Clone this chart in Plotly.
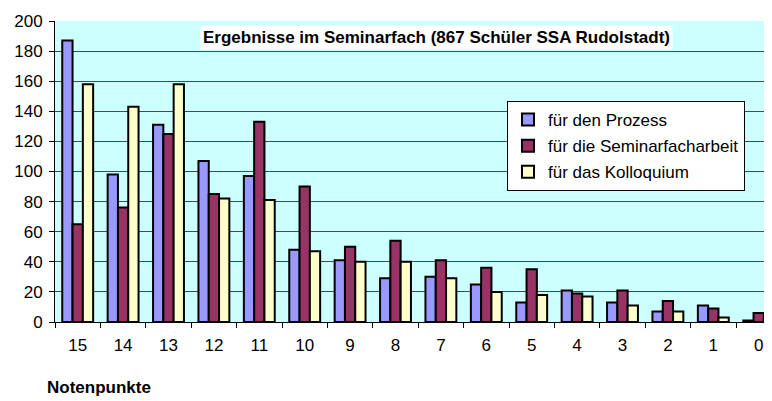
import plotly.graph_objects as go

categories = ["15", "14", "13", "12", "11", "10", "9", "8", "7", "6", "5", "4", "3", "2", "1", "0"]
prozess = [187, 98, 131, 107, 97, 48, 41, 29, 30, 25, 13, 21, 13, 7, 11, 1]
seminarfacharbeit = [65, 76, 125, 85, 133, 90, 50, 54, 41, 36, 35, 19, 21, 14, 9, 6]
kolloquium = [158, 143, 158, 82, 81, 47, 40, 40, 29, 20, 18, 17, 11, 7, 3, 2]
series_names = ["für den Prozess", "für die Seminarfacharbeit", "für das Kolloquium"]
colors = ["#9999FF", "#993366", "#FFFFCC"]
y_ticks = [0, 20, 40, 60, 80, 100, 120, 140, 160, 180, 200]

FONT = "Arial, Liberation Sans, sans-serif"

fig = go.Figure()
for i, (name, vals, col) in enumerate(zip(series_names, [prozess, seminarfacharbeit, kolloquium], colors)):
    fig.add_trace(go.Bar(
        x=categories, y=vals, name=name, legendgroup=f"g{i}",
        marker=dict(color=col, line=dict(color="black", width=2)),
    ))

# the page body has an 8px margin, so the figure is 8px smaller than the window
OFF = 8
W, H = 772 - OFF, 401 - OFF
L, T = 55 - OFF, 21 - OFF
plot_w = W - L
plot_h = 301
B = H - T - plot_h
cat_w = 45.4
x_hi = -0.5 + plot_w / cat_w

def px_x(x):
    return (x - OFF - L) / plot_w

def px_y(y):
    return (T + plot_h - (y - OFF)) / plot_h

fig.update_layout(
    width=W, height=H,
    margin=dict(l=L, r=0, t=T, b=B, autoexpand=False),
    paper_bgcolor="white",
    plot_bgcolor="#CCFFFF",
    font=dict(family=FONT, size=17, color="black"),
    barmode="group",
    bargap=0.32,
    bargroupgap=0,
    showlegend=True,
    legend=dict(
        x=px_x(507), y=px_y(101), xanchor="left", yanchor="top",
        bgcolor="white", bordercolor="black", borderwidth=1,
        font=dict(family=FONT, size=17, color="black"),
        tracegroupgap=1,
    ),
    xaxis=dict(
        type="category",
        range=[-0.5, x_hi],
        showline=True, linecolor="black", linewidth=1,
        ticks="outside", ticklen=5, tickcolor="black",
        tickson="boundaries",
        showgrid=False,
        ticklabelstandoff=8,
        tickfont=dict(family=FONT, size=17),
        automargin=False,
    ),
    yaxis=dict(
        range=[0, 200],
        tickvals=y_ticks,
        showline=True, linecolor="black", linewidth=1,
        ticks="outside", ticklen=5, tickcolor="black",
        showgrid=True, gridcolor="#4a4a4a", gridwidth=1,
        zeroline=False,
        tickfont=dict(family=FONT, size=17),
        ticklabelstandoff=3,
        automargin=False,
    ),
    annotations=[
        dict(
            text="<b>Ergebnisse im Seminarfach (867 Schüler SSA Rudolstadt)</b>",
            xref="paper", yref="paper", x=px_x(437), y=px_y(37),
            xanchor="center", yanchor="middle", showarrow=False,
            bgcolor="white", borderpad=2,
            font=dict(family=FONT, size=17, color="black"),
        ),
        dict(
            text="<b>Notenpunkte</b>",
            xref="paper", yref="paper", x=px_x(45), y=px_y(388),
            xanchor="left", yanchor="middle", showarrow=False,
            font=dict(family=FONT, size=17, color="black"),
        ),
    ],
)

fig.write_html("out.html")
